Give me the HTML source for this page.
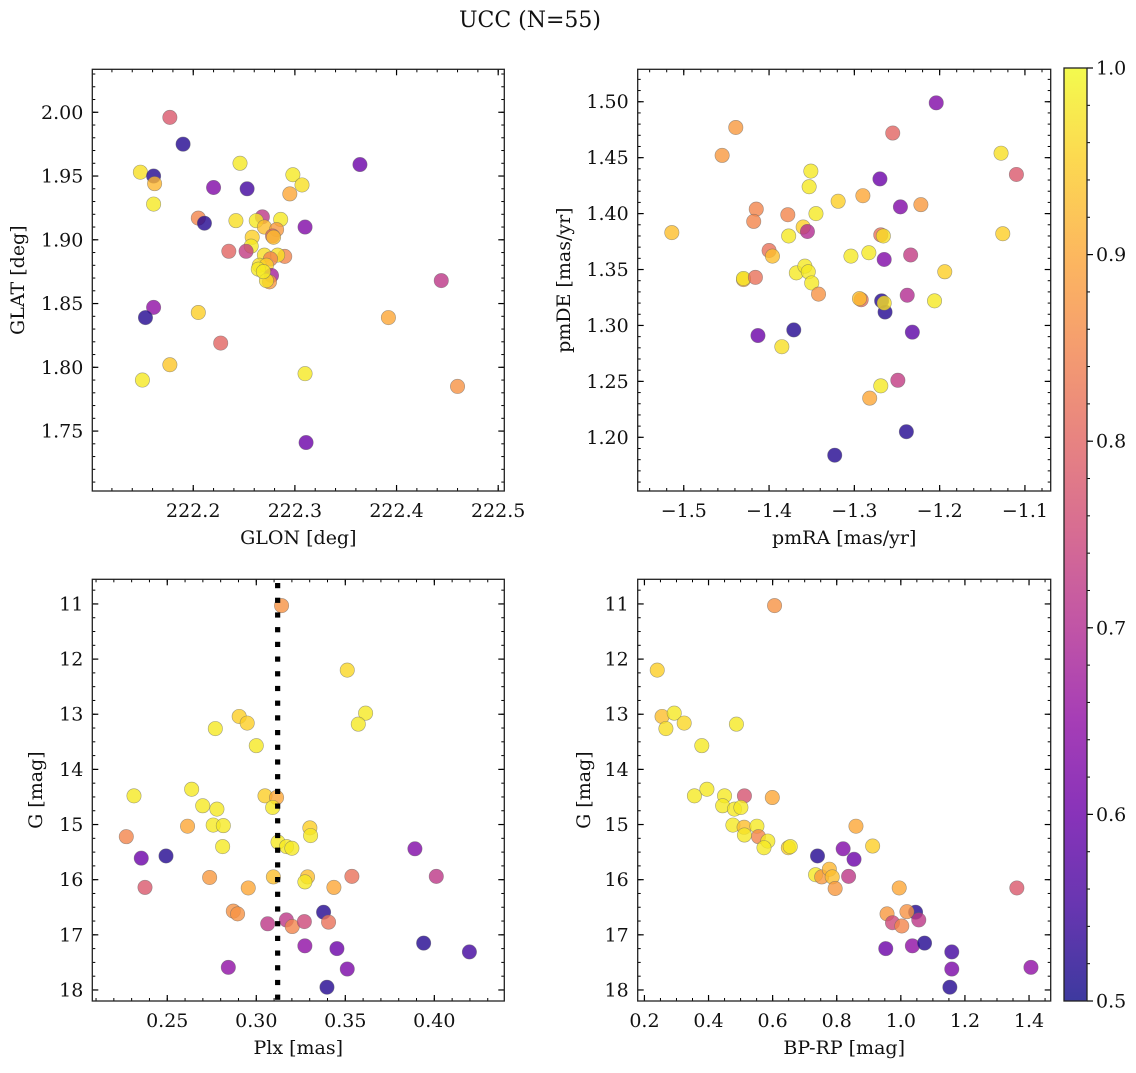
<!DOCTYPE html>
<html><head><meta charset="utf-8"><style>
body{margin:0;background:#fff}
svg text{font-family:"DejaVu Serif","Liberation Serif",serif;fill:#111}
</style></head><body>
<svg id="fig" width="1136" height="1068" xmlns="http://www.w3.org/2000/svg">
<defs>
<linearGradient id="plasma" x1="0" y1="1" x2="0" y2="0">
<stop offset="0" stop-color="#0d0887"/><stop offset="0.1" stop-color="#41049d"/><stop offset="0.2" stop-color="#6a00a8"/><stop offset="0.3" stop-color="#8f0da4"/><stop offset="0.4" stop-color="#b12a90"/><stop offset="0.5" stop-color="#cc4778"/><stop offset="0.6" stop-color="#e16462"/><stop offset="0.7" stop-color="#f2844b"/><stop offset="0.8" stop-color="#fca636"/><stop offset="0.9" stop-color="#fcce25"/><stop offset="1" stop-color="#f0f921"/>
</linearGradient>
</defs>
<text x="530" y="27" font-size="22" text-anchor="middle">UCC (N=55)</text>
</svg>
<script>
// Panel 1: GLON vs GLAT
const p1x=[222.177,222.19,222.148,222.161,222.162,222.161,222.22,222.253,222.246,222.298,222.307,222.295,222.364,222.205,222.211,222.242,222.268,222.262,222.286,222.270,222.282,222.310,222.258,222.278,222.279,222.257,222.235,222.252,222.270,222.290,222.283,222.276,222.265,222.272,222.264,222.277,222.275,222.272,222.269,222.444,222.161,222.153,222.205,222.392,222.227,222.177,222.150,222.310,222.460,222.311];
const p1y=[1.996,1.975,1.953,1.950,1.944,1.928,1.941,1.940,1.960,1.951,1.943,1.936,1.959,1.917,1.913,1.915,1.918,1.915,1.916,1.910,1.908,1.910,1.902,1.903,1.902,1.895,1.891,1.891,1.888,1.887,1.888,1.885,1.880,1.880,1.877,1.872,1.867,1.868,1.875,1.868,1.847,1.839,1.843,1.839,1.819,1.802,1.790,1.795,1.785,1.741];
const p1c=[0.78,0.52,0.97,0.52,0.92,0.98,0.63,0.55,0.98,0.98,0.97,0.9,0.6,0.85,0.52,0.97,0.72,0.98,0.98,0.93,0.88,0.63,0.95,0.8,0.93,0.98,0.8,0.73,0.97,0.85,0.97,0.85,0.97,0.95,0.98,0.68,0.88,0.97,0.98,0.72,0.65,0.52,0.95,0.9,0.8,0.94,0.98,0.98,0.87,0.6];
// Panel 2: pmRA vs pmDE
const p2x=[-1.514,-1.439,-1.455,-1.415,-1.418,-1.378,-1.377,-1.360,-1.355,-1.351,-1.353,-1.345,-1.400,-1.396,-1.430,-1.430,-1.416,-1.368,-1.358,-1.354,-1.350,-1.342,-1.413,-1.371,-1.385,-1.319,-1.290,-1.304,-1.283,-1.270,-1.269,-1.266,-1.265,-1.246,-1.255,-1.204,-1.222,-1.234,-1.238,-1.232,-1.292,-1.294,-1.268,-1.264,-1.265,-1.194,-1.206,-1.128,-1.126,-1.110,-1.249,-1.269,-1.282,-1.239,-1.323];
const p2y=[1.383,1.477,1.452,1.404,1.393,1.399,1.380,1.388,1.384,1.438,1.424,1.400,1.367,1.362,1.341,1.342,1.343,1.347,1.353,1.348,1.338,1.328,1.291,1.296,1.281,1.411,1.416,1.362,1.365,1.431,1.381,1.380,1.359,1.406,1.472,1.499,1.408,1.363,1.327,1.294,1.323,1.324,1.322,1.312,1.320,1.348,1.322,1.454,1.382,1.435,1.251,1.246,1.235,1.205,1.184];
const p2c=[0.93,0.88,0.88,0.85,0.85,0.85,0.98,0.95,0.7,0.98,0.98,0.98,0.82,0.93,0.9,0.98,0.82,0.98,0.98,0.98,0.98,0.87,0.6,0.52,0.97,0.95,0.9,0.98,0.98,0.6,0.82,0.97,0.63,0.63,0.8,0.63,0.88,0.73,0.7,0.58,0.82,0.93,0.52,0.52,0.97,0.95,0.98,0.97,0.95,0.78,0.73,0.98,0.9,0.52,0.52];
// Panel 3: Plx vs G
const p3x=[0.3142,0.3511,0.3614,0.3573,0.2904,0.2949,0.2770,0.3000,0.2313,0.2637,0.3049,0.3114,0.3092,0.2699,0.2779,0.2614,0.2758,0.2815,0.3301,0.3305,0.2270,0.2811,0.3122,0.3170,0.3200,0.3891,0.2354,0.2493,0.3288,0.3273,0.2738,0.3096,0.3537,0.4011,0.2375,0.2955,0.3436,0.2871,0.2895,0.3378,0.3064,0.3169,0.3202,0.3270,0.3406,0.3273,0.3453,0.3940,0.4197,0.2843,0.3511,0.3397];
const p3y=[11.03,12.20,12.98,13.18,13.04,13.16,13.26,13.57,14.48,14.36,14.48,14.51,14.69,14.66,14.72,15.03,15.01,15.02,15.06,15.20,15.22,15.40,15.32,15.40,15.43,15.44,15.61,15.57,15.95,16.04,15.96,15.95,15.94,15.94,16.14,16.15,16.14,16.57,16.62,16.59,16.80,16.73,16.85,16.76,16.77,17.20,17.25,17.15,17.31,17.59,17.62,17.95];
const p3c=[0.87,0.96,0.98,0.98,0.95,0.95,0.98,0.98,0.98,0.98,0.95,0.9,0.98,0.98,0.98,0.9,0.98,0.98,0.95,0.98,0.85,0.98,0.98,0.98,0.98,0.63,0.6,0.52,0.93,0.98,0.88,0.93,0.82,0.72,0.78,0.9,0.9,0.87,0.87,0.52,0.72,0.72,0.85,0.75,0.82,0.65,0.6,0.52,0.55,0.65,0.62,0.52];
// Panel 4: BP-RP vs G
const p4x=[0.606,0.240,0.255,0.267,0.293,0.324,0.487,0.379,0.356,0.395,0.450,0.512,0.599,0.444,0.481,0.501,0.476,0.511,0.551,0.556,0.512,0.585,0.573,0.649,0.655,0.860,0.912,0.740,0.820,0.854,0.734,0.753,0.777,0.786,0.795,0.837,0.995,1.362,0.957,1.046,1.019,0.974,1.003,1.056,0.953,1.036,1.074,1.159,1.159,1.153,1.406];
const p4y=[11.03,12.20,13.04,13.26,12.98,13.16,13.18,13.57,14.48,14.36,14.48,14.48,14.51,14.66,14.72,14.69,15.01,15.05,15.03,15.22,15.19,15.30,15.42,15.42,15.40,15.03,15.39,15.57,15.44,15.63,15.91,15.95,15.81,15.95,16.16,15.94,16.15,16.15,16.62,16.59,16.58,16.78,16.84,16.73,17.25,17.20,17.15,17.31,17.62,17.95,17.59];
const p4c=[0.87,0.95,0.93,0.97,0.98,0.96,0.98,0.98,0.98,0.98,0.98,0.77,0.9,0.98,0.98,0.98,0.98,0.93,0.98,0.85,0.98,0.98,0.98,0.95,0.98,0.9,0.95,0.52,0.63,0.6,0.98,0.88,0.92,0.93,0.88,0.72,0.9,0.78,0.88,0.52,0.87,0.75,0.85,0.72,0.6,0.65,0.52,0.55,0.62,0.52,0.65];
const p1xt=[222.2,222.3,222.4,222.5], p1yt=[1.75,1.80,1.85,1.90,1.95,2.00];
const p2xt=[-1.5,-1.4,-1.3,-1.2,-1.1], p2yt=[1.20,1.25,1.30,1.35,1.40,1.45,1.50];
const p3xt=[0.25,0.30,0.35,0.40], gt=[11,12,13,14,15,16,17,18];
const p4xt=[0.2,0.4,0.6,0.8,1.0,1.2,1.4];
const cbt=[0.5,0.6,0.7,0.8,0.9,1.0];
const plxLine=0.312;

const FS=19;
const NS="http://www.w3.org/2000/svg";
const svg=document.getElementById('fig');
function mk(tag,attrs,parent){const e=document.createElementNS(NS,tag);for(const k in attrs)e.setAttribute(k,attrs[k]);(parent||svg).appendChild(e);return e;}
const stops=[[13,8,135],[65,4,157],[106,0,168],[143,13,164],[177,42,144],[204,71,120],[225,100,98],[242,132,75],[252,166,54],[252,206,37],[240,249,33]];
function plasma(v){let t=(v-0.5)/0.5;t=Math.max(0,Math.min(1,t))*10;const i=Math.min(9,Math.floor(t)),f=t-i;const a=stops[i],b=stops[i+1];return `rgb(${a.map((c,k)=>Math.round(c+(b[k]-c)*f)).join(',')})`;}
function fmt(v,d){const s=v.toFixed(d);return v<0?'\u2212'+s.slice(1):s;}

function panel(o){
  const g=mk('g',{});
  
  
  const X=v=>o.L+(v-o.x0)/(o.x1-o.x0)*(o.R-o.L);
  const Y=v=>o.inv? o.T+(v-o.y0)/(o.y1-o.y0)*(o.B-o.T) : o.B-(v-o.y0)/(o.y1-o.y0)*(o.B-o.T);
  for(let i=0;i<o.xs.length;i++){
    const c=mk('circle',{cx:X(o.xs[i]),cy:Y(o.ys[i]),r:7.2,fill:plasma(o.cs[i]),'fill-opacity':0.8,stroke:'#666','stroke-opacity':0.6,'stroke-width':0.6},g);
    
    
  }
  if(o.vline!==undefined){
    const lg=mk('g',{},g);
    
    
    const lx=X(o.vline);
    for(let y=o.T+3.7;y<o.B-2;y+=14.7){mk('rect',{x:lx-2.6,y:y,width:5.2,height:5.2,fill:'#000'},lg);}
  }
  for(let v=Math.ceil(o.x0/o.xm-1e-6)*o.xm; v<=o.x1+1e-9; v+=o.xm){const x=X(v);mk('line',{x1:x,x2:x,y1:o.B,y2:o.B-3,stroke:'#000'},g);mk('line',{x1:x,x2:x,y1:o.T,y2:o.T+3,stroke:'#000'},g);}
  const ylo=Math.min(o.y0,o.y1),yhi=Math.max(o.y0,o.y1);
  for(let v=Math.ceil(ylo/o.ym-1e-6)*o.ym; v<=yhi+1e-9; v+=o.ym){const y=Y(v);mk('line',{x1:o.L,x2:o.L+3,y1:y,y2:y,stroke:'#000'},g);mk('line',{x1:o.R,x2:o.R-3,y1:y,y2:y,stroke:'#000'},g);}
  o.xt.forEach(v=>{const x=X(v);mk('line',{x1:x,x2:x,y1:o.B,y2:o.B-6,stroke:'#000','stroke-width':1.2},g);mk('line',{x1:x,x2:x,y1:o.T,y2:o.T+6,stroke:'#000','stroke-width':1.2},g);
    const t=mk('text',{x:x,y:o.B+26,'font-size':FS,'text-anchor':'middle'},g);t.textContent=fmt(v,o.xd);});
  o.yt.forEach(v=>{const y=Y(v);mk('line',{x1:o.L,x2:o.L+6,y1:y,y2:y,stroke:'#000','stroke-width':1.2},g);mk('line',{x1:o.R,x2:o.R-6,y1:y,y2:y,stroke:'#000','stroke-width':1.2},g);
    const t=mk('text',{x:o.L-9,y:y+6.5,'font-size':FS,'text-anchor':'end'},g);t.textContent=fmt(v,o.yd);});
  const fr=mk('rect',{x:o.L,y:o.T,width:o.R-o.L,height:o.B-o.T,fill:'none',stroke:'#222','stroke-width':1.3},g);
  
  const xl=mk('text',{x:(o.L+o.R)/2,y:o.B+53,'font-size':FS,'text-anchor':'middle'},g);xl.textContent=o.xlab;
  
  const yc=(o.T+o.B)/2;
  const yl=mk('text',{x:o.ylx,y:yc,'font-size':FS,'text-anchor':'middle',transform:`rotate(-90 ${o.ylx} ${yc})`},g);yl.textContent=o.ylab;
  
}
panel({name:'glon-glat-panel',L:92.3,R:504.3,T:69.3,B:491,x0:222.1007,x1:222.506,y0:1.703,y1:2.0337,xs:p1x,ys:p1y,cs:p1c,xt:p1xt,yt:p1yt,xm:0.02,ym:0.01,xd:1,yd:2,xlab:'GLON [deg]',ylab:'GLAT [deg]',ylx:24});
panel({name:'pm-panel',L:637.7,R:1050.7,T:69.3,B:491,x0:-1.554,x1:-1.0698,y0:1.152,y1:1.529,xs:p2x,ys:p2y,cs:p2c,xt:p2xt,yt:p2yt,xm:0.02,ym:0.01,xd:1,yd:2,xlab:'pmRA [mas/yr]',ylab:'pmDE [mas/yr]',ylx:570});
panel({name:'plx-g-panel',L:92.3,R:504.3,T:579.3,B:1001,x0:0.2079,x1:0.4393,y0:10.553,y1:18.2,inv:true,xs:p3x,ys:p3y,cs:p3c,xt:p3xt,yt:gt,xm:0.01,ym:0.25,xd:2,yd:0,xlab:'Plx [mas]',ylab:'G [mag]',ylx:42,vline:plxLine});
panel({name:'cmd-panel',L:637.7,R:1050.7,T:579.3,B:1001,x0:0.179,x1:1.4676,y0:10.553,y1:18.2,inv:true,xs:p4x,ys:p4y,cs:p4c,xt:p4xt,yt:gt,xm:0.05,ym:0.25,xd:1,yd:0,xlab:'BP-RP [mag]',ylab:'G [mag]',ylx:590});

const cb=mk('g',{});


const cT=68,cB=1001,cL=1064,cR=1087;
mk('rect',{x:cL,y:cT,width:cR-cL,height:cB-cT,fill:'url(#plasma)','fill-opacity':0.8},cb);
const CY=v=>cB-(v-0.5)/0.5*(cB-cT);
for(let v=0.5;v<=1.0001;v+=0.02){mk('line',{x1:cR,x2:cR+3,y1:CY(v),y2:CY(v),stroke:'#000'},cb);}
cbt.forEach(v=>{mk('line',{x1:cR,x2:cR+6,y1:CY(v),y2:CY(v),stroke:'#000','stroke-width':1.2},cb);
  const t=mk('text',{x:cR+9,y:CY(v)+6.5,'font-size':FS},cb);t.textContent=v.toFixed(1);
  });
mk('rect',{x:cL,y:cT,width:cR-cL,height:cB-cT,fill:'none',stroke:'#222','stroke-width':1.3},cb);
</script>
</body></html>
